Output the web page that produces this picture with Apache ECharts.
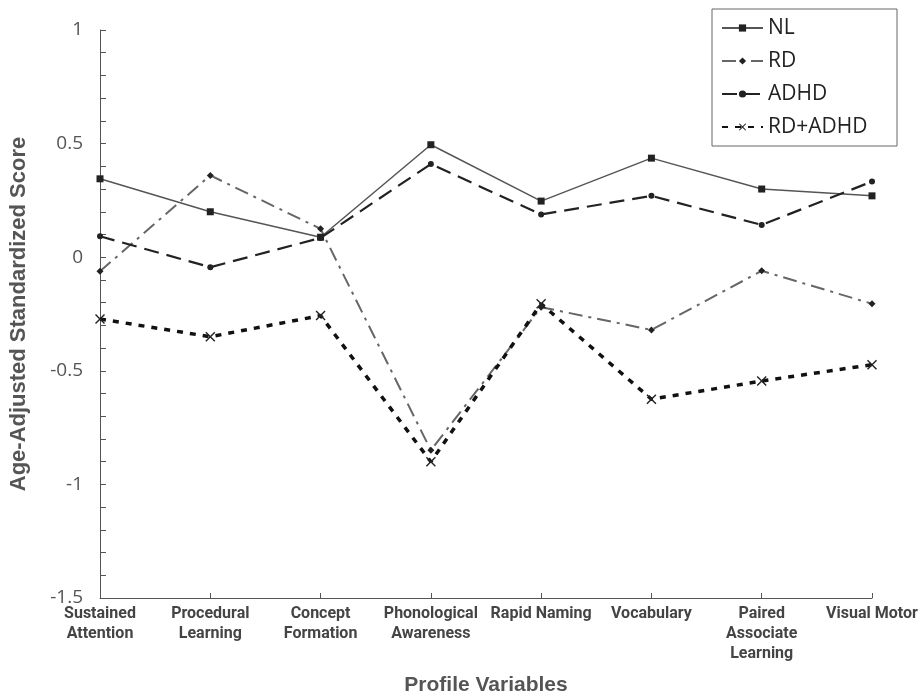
<!DOCTYPE html>
<html><head><meta charset="utf-8">
<script src="https://cdn.jsdelivr.net/npm/echarts@6/dist/echarts.min.js"></script>
<style>html,body{margin:0;padding:0;background:#fff}#c{width:918px;height:698px}</style>
</head><body><div id="c"></div>
<script>
var categories = ['Sustained\nAttention','Procedural\nLearning','Concept\nFormation','Phonological\nAwareness','Rapid Naming','Vocabulary','Paired\nAssociate\nLearning','Visual Motor'];
var seriesNames = ['NL','RD','ADHD','RD+ADHD'];
var nlValues = [0.345, 0.20, 0.088, 0.495, 0.247, 0.436, 0.30, 0.27];
var rdValues = [-0.062, 0.36, 0.125, -0.85, -0.22, -0.32, -0.06, -0.205];
var adhdValues = [0.092, -0.044, 0.085, 0.41, 0.188, 0.27, 0.142, 0.333];
var rdAdhdValues = [-0.272, -0.35, -0.257, -0.90, -0.205, -0.625, -0.545, -0.473];
var yTicks = {min: -1.5, max: 1, interval: 0.5};

var crossPath = 'path://M0,1L1,0L5,4L9,0L10,1L6,5L10,9L9,10L5,6L1,10L0,9L4,5Z';
var boldFont = 'Liberation Sans, Arial, sans-serif';
var chart = echarts.init(document.getElementById('c'));
chart.setOption({
  animation: false,
  backgroundColor: '#fff',
  grid: {left: 100, right: 46, top: 30, bottom: 100, containLabel: false, outerBoundsMode: 'none'},
  legend: {
    right: 21, top: 9, orient: 'vertical',
    borderColor: '#666', borderWidth: 1, padding: [8, 13, 8, 9],
    itemWidth: 41, itemHeight: 9, itemGap: 11,
    textStyle: {fontFamily: 'Open Sans, sans-serif', fontSize: 21, lineHeight: 22, color: '#222', width: 116},
    data: seriesNames
  },
  xAxis: {
    type: 'category', boundaryGap: false, data: categories,
    axisLine: {onZero: false, lineStyle: {color: '#555', width: 1}},
    axisTick: {inside: true, length: 5, alignWithLabel: true, lineStyle: {color: '#555'}},
    axisLabel: {interval: 0, color: '#444', fontWeight: 'bold', fontSize: 16, lineHeight: 20,
      fontFamily: 'Roboto, sans-serif', margin: 6, verticalAlign: 'top'},
    name: 'Profile Variables', nameLocation: 'middle', nameGap: 77,
    nameTextStyle: {fontWeight: 'bold', fontSize: 21, color: '#555', fontFamily: boldFont}
  },
  yAxis: {
    type: 'value', min: yTicks.min, max: yTicks.max, interval: yTicks.interval,
    axisLine: {show: true, lineStyle: {color: '#555'}},
    axisTick: {show: true, inside: true, length: 6, lineStyle: {color: '#555'}},
    minorTick: {show: true, splitNumber: 5, length: 6, lineStyle: {color: '#555'}},
    splitLine: {show: false},
    axisLabel: {color: '#555', fontSize: 19, fontFamily: 'Open Sans, sans-serif', margin: 17},
    name: 'Age-Adjusted Standardized Score', nameLocation: 'middle', nameGap: 70, nameRotate: 90,
    nameTextStyle: {fontWeight: 'bold', fontSize: 22, color: '#555', fontFamily: boldFont}
  },
  series: [
    {name: 'NL', type: 'line', data: nlValues, symbol: 'rect', symbolSize: 7,
      itemStyle: {color: '#222'}, lineStyle: {color: '#555', width: 1.5, type: 'solid'}},
    {name: 'RD', type: 'line', data: rdValues, symbol: 'diamond', symbolSize: 7,
      itemStyle: {color: '#222'}, lineStyle: {color: '#666', width: 2, type: [14, 6, 3, 6]}},
    {name: 'ADHD', type: 'line', data: adhdValues, symbol: 'circle', symbolSize: 6,
      itemStyle: {color: '#222'}, lineStyle: {color: '#222', width: 2.2, type: [15, 8]}},
    {name: 'RD+ADHD', type: 'line', data: rdAdhdValues, symbol: crossPath, symbolSize: 10,
      itemStyle: {color: '#222'}, lineStyle: {color: '#111', width: 3.5, type: [6, 7]}}
  ]
});
</script></body></html>
